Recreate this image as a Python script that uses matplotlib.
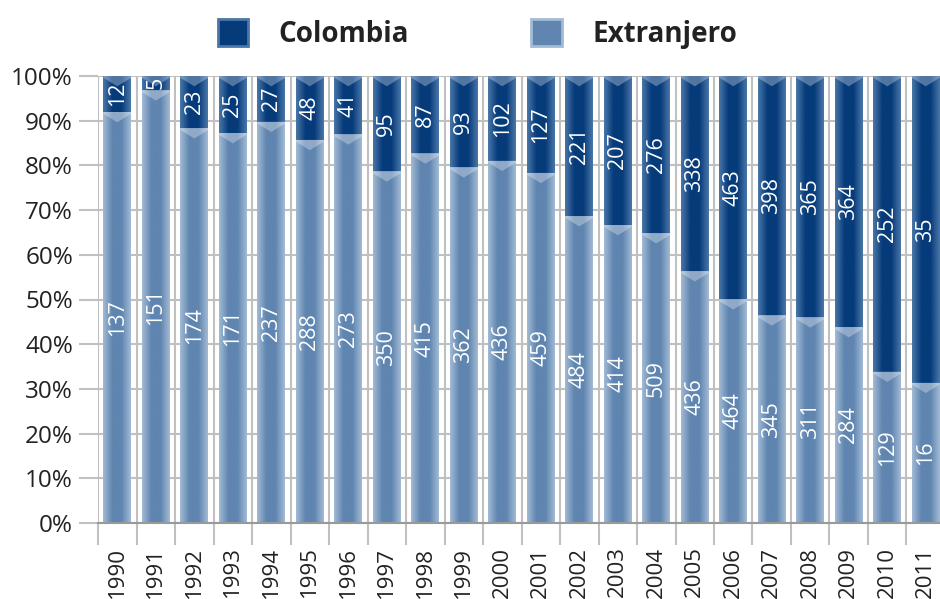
import numpy as np
import matplotlib.pyplot as plt
from matplotlib.patches import Polygon, Patch
from matplotlib.colors import LinearSegmentedColormap

plt.rcParams['font.family'] = ['Open Sans', 'DejaVu Sans']

# data
years = [str(y) for y in range(1990, 2012)]
colombia = [12, 5, 23, 25, 27, 48, 41, 95, 87, 93, 102, 127,
            221, 207, 276, 338, 463, 398, 365, 364, 252, 35]
extranjero = [137, 151, 174, 171, 237, 288, 273, 350, 415, 362, 436, 459,
              484, 414, 509, 436, 464, 345, 311, 284, 129, 16]

col = np.array(colombia, dtype=float)
ext = np.array(extranjero, dtype=float)
total = col + ext
ext_pct = ext / total * 100
col_pct = col / total * 100

DARK_C, DARK_E = '#063b7a', '#4a77a8'
LIGHT_C, LIGHT_E = '#5f85b0', '#a3bbd5'

fig = plt.figure(figsize=(9.4, 5.99), dpi=100)
ax = fig.add_axes([0.1043, 0.1269, 0.901, 0.7462])

x = np.arange(len(years))
w = 0.72
b_ext = ax.bar(x, ext_pct, width=w, color=LIGHT_C, zorder=2)
b_col = ax.bar(x, col_pct, width=w, bottom=ext_pct, color=DARK_C, zorder=2)


def shade(bars, c_center, c_edge):
    cmap = LinearSegmentedColormap.from_list('g', [c_edge, c_center, c_center, c_edge])
    grad = np.linspace(0, 1, 64).reshape(1, -1)
    for r in bars:
        x0, y0 = r.get_x(), r.get_y()
        x1, y1 = x0 + r.get_width(), y0 + r.get_height()
        ax.imshow(grad, cmap=cmap, extent=(x0, x1, y0, y1), aspect='auto',
                  origin='lower', zorder=2.5, interpolation='bicubic')
        xc = (x0 + x1) / 2
        d2 = min(2.3, r.get_height())
        ax.add_patch(Polygon([(x0, y1), (x1, y1), (x1, y1 - 0.4), (xc, y1 - d2), (x0, y1 - 0.4)],
                             closed=True, facecolor='white', alpha=0.3, lw=0, zorder=2.7))


shade(b_ext, LIGHT_C, LIGHT_E)
shade(b_col, DARK_C, DARK_E)

# value labels
for i in range(len(years)):
    ax.text(x[i], ext_pct[i] / 2, str(extranjero[i]), rotation=90, ha='center', va='center',
            color='white', fontsize=15.5, zorder=4)
    ax.text(x[i], ext_pct[i] + col_pct[i] / 2, str(colombia[i]), rotation=90, ha='center',
            va='center', color='white', fontsize=15.5, zorder=4)

ax.set_xlim(-0.5, len(years) - 0.5)
ax.set_ylim(0, 100)
ax.set_yticks(np.arange(0, 101, 10))
ax.set_yticklabels([f'{v}%' for v in range(0, 101, 10)], fontsize=17.5, color='#222222')
ax.set_xticks(x)
ax.set_xticklabels(years, rotation=90, fontsize=16, color='#222222')
ax.set_xticks(np.arange(-0.5, len(years)), minor=True)
ax.tick_params(axis='x', which='major', length=0, pad=17)
ax.tick_params(axis='x', which='minor', length=16, width=1.5, color='#c0c0c0')
ax.tick_params(axis='y', length=14, width=1.5, color='#c0c0c0', pad=4)
ax.grid(axis='y', color='#c0c0c0', lw=1.5, zorder=0)
ax.grid(axis='x', which='minor', color='#c0c0c0', lw=1.5, zorder=0)
for s in ['top', 'right', 'left']:
    ax.spines[s].set_visible(False)
ax.spines['bottom'].set_color('#999999')
ax.spines['bottom'].set_linestyle((0, (2, 1)))
ax.spines['bottom'].set_linewidth(1.5)
ax.spines['bottom'].set_zorder(3)

handles = [Patch(facecolor=DARK_C, edgecolor=DARK_E, lw=2),
           Patch(facecolor=LIGHT_C, edgecolor=LIGHT_E, lw=2)]
fig.legend(handles, ['Colombia', 'Extranjero'], loc='upper center', bbox_to_anchor=(0.508, 1.01),
           ncol=2, frameon=False, prop={'size': 20, 'weight': 'bold'}, handlelength=1.1,
           handleheight=1.1, handletextpad=1.1, columnspacing=4.4, labelcolor='#222222')

fig.savefig('out.png', dpi=100)
